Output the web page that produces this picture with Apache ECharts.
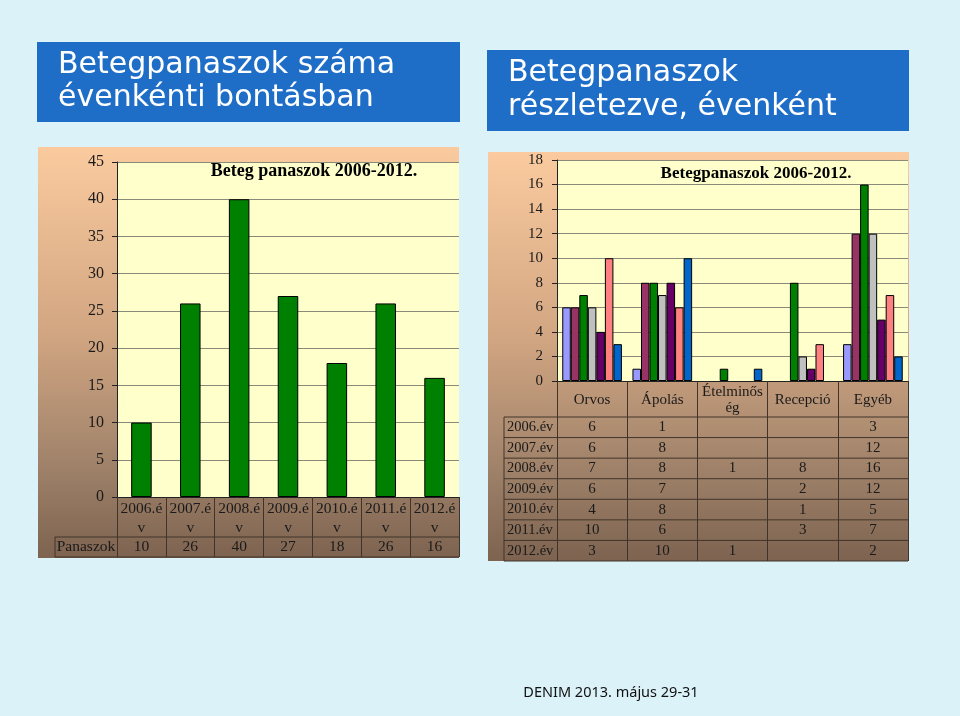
<!DOCTYPE html>
<html><head><meta charset="utf-8">
<script src="https://cdn.jsdelivr.net/npm/echarts@6/dist/echarts.min.js"></script>
<style>html,body{margin:0;padding:0;background:#DAF2F8}#c{width:960px;height:716px}</style>
</head><body><div id="c"></div>
<script>
// ---------- DATA ----------
const leftCategories = ['2006.év','2007.év','2008.év','2009.év','2010.év','2011.év','2012.év'];
const leftValues = [10, 26, 40, 27, 18, 26, 16];
const leftRowLabel = 'Panaszok';
const leftTitle = 'Beteg panaszok 2006-2012.';

const rightCategories = ['Orvos','Ápolás','Ételminőség','Recepció','Egyéb'];
const rightYears = ['2006.év','2007.év','2008.év','2009.év','2010.év','2011.év','2012.év'];
const y2006 = [6, 1, null, null, 3];
const y2007 = [6, 8, null, null, 12];
const y2008 = [7, 8, 1, 8, 16];
const y2009 = [6, 7, null, 2, 12];
const y2010 = [4, 8, null, 1, 5];
const y2011 = [10, 6, null, 3, 7];
const y2012 = [3, 10, 1, null, 2];
const rightSeriesValues = [y2006, y2007, y2008, y2009, y2010, y2011, y2012];
const rightTitle = 'Betegpanaszok 2006-2012.';

const slideTitle1 = ['Betegpanaszok száma', 'évenkénti bontásban'];
const slideTitle2 = ['Betegpanaszok', 'részletezve, évenként'];
const footer = 'DENIM 2013. május 29-31';

// ---------- STYLE / LAYOUT ----------
const rightColors = ['#9999FF','#993366','#008000','#C0C0C0','#660066','#FF8080','#0066CC'];
const L = {left:117, top:162, width:342, height:335};
const R = {left:557, top:160, width:351, height:221};
const serif = 'Liberation Serif';
const txt = '#1a1a1a';
const tableLine = '#40342a';

function panelGrad(){
  return new echarts.graphic.LinearGradient(0,0,0,1,[
    {offset:0,color:'#FBCB9F'},{offset:0.45,color:'#D2A682'},
    {offset:0.75,color:'#A3856C'},{offset:1,color:'#7D6350'}]);
}
function text(x,y,t,opt){
  return {type:'text', x:x, y:y, z:20, silent:true,
    style:Object.assign({text:t, fill:txt, fontFamily:serif, fontSize:15, align:'center', verticalAlign:'middle'}, opt||{})};
}
function line(x1,y1,x2,y2){
  return {type:'line', z:20, silent:true, shape:{x1:x1,y1:y1,x2:x2,y2:y2}, style:{stroke:tableLine, lineWidth:1}};
}

const g = [];
const titleFont = {fill:'#fff',fontFamily:'DejaVu Sans',fontSize:30,align:'left'};
// slide title boxes
g.push({type:'rect', z:-10, shape:{x:37,y:42,width:423,height:80}, style:{fill:'#1E6EC8'}});
g.push(text(58,65,slideTitle1[0],titleFont));
g.push(text(58,98,slideTitle1[1],titleFont));
g.push({type:'rect', z:-10, shape:{x:487,y:50,width:422,height:81}, style:{fill:'#1E6EC8'}});
g.push(text(508,73,slideTitle2[0],titleFont));
g.push(text(508,107,slideTitle2[1],titleFont));
// panels
g.push({type:'rect', z:-10, shape:{x:38,y:147,width:421,height:411}, style:{fill:panelGrad()}});
g.push({type:'rect', z:-9, shape:{x:L.left,y:L.top,width:L.width,height:L.height}, style:{fill:'#FFFFCC'}});
g.push({type:'rect', z:-10, shape:{x:488,y:152,width:421,height:409}, style:{fill:panelGrad()}});
g.push({type:'rect', z:-9, shape:{x:R.left,y:R.top,width:R.width,height:R.height}, style:{fill:'#FFFFCC'}});
// chart titles
g.push(text(314,171,leftTitle,{fontWeight:'bold',fontSize:18,fill:'#000'}));
g.push(text(756,174,rightTitle,{fontWeight:'bold',fontSize:17,fill:'#000'}));
// left data table
const lBot = L.top + L.height;
const lRowY = lBot + 40, lEnd = lBot + 60;
g.push(line(55,lRowY,L.left+L.width,lRowY));
g.push(line(55,lEnd,L.left+L.width,lEnd));
g.push(line(55,lRowY,55,lEnd));
g.push(text(86,(lRowY+lEnd)/2,leftRowLabel,{fontSize:15.5}));
const lcw = L.width/leftCategories.length;
leftValues.forEach((v,i)=>g.push(text(L.left+(i+0.5)*lcw,(lRowY+lEnd)/2,String(v),{fontSize:15.5})));
// right data table
const rBot = R.top + R.height;
const rTop = rBot + 36, rowH = (561 - rTop)/rightYears.length;
const rcw = R.width/rightCategories.length;
for(let k=0;k<=rightYears.length;k++){ const yy = rTop + k*rowH; g.push(line(504,yy,R.left+R.width,yy)); }
g.push(line(504,rTop,504,rTop+rowH*rightYears.length));
rightYears.forEach((yr,k)=>{
  const yy = rTop + (k+0.5)*rowH;
  g.push(text(507,yy,yr,{align:'left',fontSize:14.5}));
  rightSeriesValues[k].forEach((v,i)=>{ if(v!=null) g.push(text(R.left+(i+0.5)*rcw,yy,String(v),{fontSize:15})); });
});
// footer
g.push(text(611,693,footer,{fontFamily:'Noto Sans',fontSize:14.5,fill:'#111'}));

const chart = echarts.init(document.getElementById('c'), null, {renderer:'canvas'});
const axisLabelBase = {fontFamily:serif, color:txt};
chart.setOption({
  backgroundColor:'#DAF2F8',
  animation:false,
  graphic:{elements:g},
  grid:[
    {left:L.left, top:L.top, width:L.width, height:L.height, containLabel:false},
    {left:R.left, top:R.top, width:R.width, height:R.height, containLabel:false}
  ],
  xAxis:[
    {type:'category', gridIndex:0, data:leftCategories,
     axisLine:{show:true, lineStyle:{color:'#222'}},
     axisTick:{show:true, length:60, interval:0, lineStyle:{color:tableLine}},
     axisLabel:Object.assign({}, axisLabelBase, {fontSize:15.5, interval:0, margin:21, lineHeight:19, verticalAlign:'middle',
       formatter:v=>v.slice(0,-1)+'\n'+v.slice(-1)})},
    {type:'category', gridIndex:1, data:rightCategories,
     axisLine:{show:true, lineStyle:{color:'#222'}},
     axisTick:{show:true, length:180, interval:0, lineStyle:{color:tableLine}},
     axisLabel:Object.assign({}, axisLabelBase, {fontSize:15, interval:0, margin:19, lineHeight:16, verticalAlign:'middle',
       formatter:v=>v.length>10 ? v.slice(0,9)+'\n'+v.slice(9) : v})}
  ],
  yAxis:[
    {type:'value', gridIndex:0, min:0, max:45, interval:5,
     axisLine:{show:true, lineStyle:{color:'#222'}},
     axisTick:{show:true, length:5, lineStyle:{color:'#222'}},
     splitLine:{show:true, lineStyle:{color:'#8a8a7a'}},
     axisLabel:Object.assign({}, axisLabelBase, {fontSize:16, margin:13})},
    {type:'value', gridIndex:1, min:0, max:18, interval:2,
     axisLine:{show:true, lineStyle:{color:'#222'}},
     axisTick:{show:true, length:5, lineStyle:{color:'#222'}},
     splitLine:{show:true, lineStyle:{color:'#8a8a7a'}},
     axisLabel:Object.assign({}, axisLabelBase, {fontSize:15, margin:14})}
  ],
  series:[
    {type:'bar', xAxisIndex:0, yAxisIndex:0, data:leftValues, barCategoryGap:'58%',
     itemStyle:{color:'#008000', borderColor:'#000', borderWidth:1}}
  ].concat(rightSeriesValues.map((vals,k)=>({
     type:'bar', name:rightYears[k], xAxisIndex:1, yAxisIndex:1, data:vals,
     barGap:'0%', barCategoryGap:'15%',
     itemStyle:{color:rightColors[k], borderColor:'#000', borderWidth:1}})))
});
</script></body></html>
